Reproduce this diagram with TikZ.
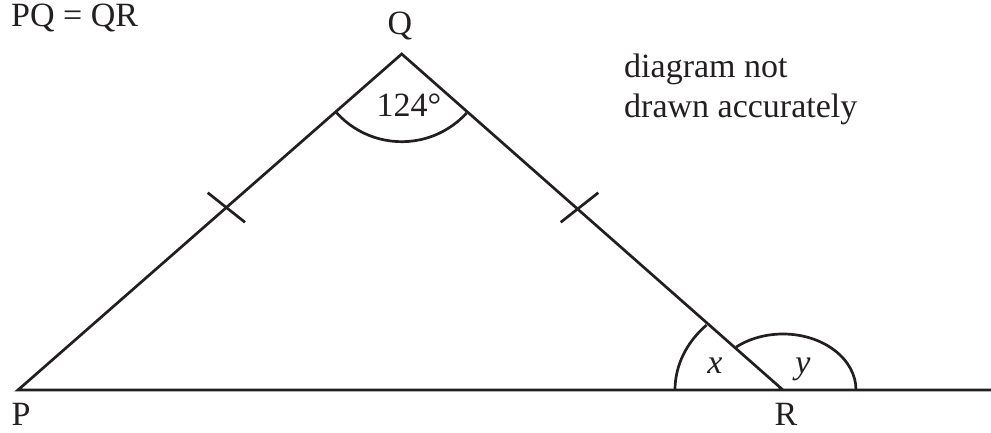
\documentclass[tikz,border=0pt]{standalone}
\usepackage{fontspec}
\setmainfont{Liberation Serif}
\definecolor{ink}{RGB}{35,31,32}
\begin{document}
\begin{tikzpicture}[x=1pt,y=1pt,
  ln/.style={draw=ink,line width=2.7pt,line join=miter},
  lbl/.style={text=ink,inner sep=0pt,font=\fontsize{34}{40}\selectfont}]
\useasboundingbox (0,0) rectangle (991,432);
% vertices
\coordinate (P) at (18,42);
\coordinate (Q) at (401.7,378);
\coordinate (R) at (783,42);
\coordinate (E) at (991,42);
% tick ends
\coordinate (t1a) at (207.7,239.3);
\coordinate (t1b) at (245,209.7);
\coordinate (t2a) at (560.7,209.7);
\coordinate (t2b) at (598.3,239.3);
% sides and base line
\draw[ln] (E) -- (P) -- (Q) -- (R);
% equal-length ticks
\draw[ln] (t1a) -- (t1b);
\draw[ln] (t2a) -- (t2b);
% angle arcs
\draw[ln] (Q) ++(222.1:87.7) arc[start angle=222.1,end angle=317.6,radius=87.7];
\draw[ln] (R) ++(-76.5,64.9) arc[start angle=135.1,end angle=180,x radius=108,y radius=92];
\draw[ln] (R) ++(73,0) arc[start angle=0,end angle=130,x radius=73,y radius=56];
% labels
\node[lbl,anchor=base] (lP) at (21,6.5) {P};
\node[lbl,anchor=base] (lR) at (786,6.5) {R};
\node[lbl,anchor=base] (lQ) at (400,397) {Q};
\node[lbl,anchor=base west] (eq) at (11,405.3) {PQ = QR};
\node[lbl,anchor=base west] (n1) at (624,354) {diagram not};
\node[lbl,anchor=base west] (n2) at (624,314) {drawn accurately};
\node[lbl,anchor=base] (aQ) at (409,315.3) {124°};
\node[lbl,anchor=base] (ax) at (715,59) {\itshape x};
\node[lbl,anchor=base] (ay) at (803,59) {\itshape y};
\end{tikzpicture}
\end{document}
